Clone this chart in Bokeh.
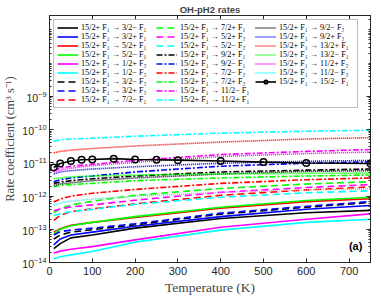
from bokeh.plotting import figure
from bokeh.models import (Range1d, LogAxis, LinearAxis, FixedTicker, Legend, LegendItem,
                          Label, CustomJSTickFormatter)
from bokeh.embed import file_html
from bokeh.resources import INLINE

# ---------------- data ----------------
T = [10, 25, 50, 100, 200, 400, 600, 750]
T_marked = [10, 25, 50, 75, 100, 150, 200, 250, 300, 400, 500, 600, 750]

# solid
k_32m_F1 = [2.6e-14, 3.7e-14, 5.5e-14, 6.7e-14, 1.08e-13, 2.1e-13, 3.15e-13, 3.7e-13]
k_32p_F1 = [3.4e-14, 5.1e-14, 6.7e-14, 8.2e-14, 1.23e-13, 2.4e-13, 4.0e-13, 5.2e-13]
k_52p_F1 = [8.2e-14, 1.04e-13, 1.32e-13, 1.61e-13, 2.25e-13, 4.3e-13, 6.8e-13, 8.3e-13]
k_52m_F1 = [7.4e-14, 1.0e-13, 1.27e-13, 1.61e-13, 2.4e-13, 4.6e-13, 7.3e-13, 9.2e-13]
k_12p_F2 = [1.94e-14, 2.2e-14, 2.5e-14, 3.0e-14, 4.8e-14, 1.15e-13, 2.0e-13, 2.9e-13]
k_12m_F2 = [1.3e-14, 1.49e-14, 1.7e-14, 2.15e-14, 4.1e-14, 9.4e-14, 1.61e-13, 2.0e-13]
# dashed
k_32m_F2 = [5.1e-14, 6.7e-14, 8.2e-14, 9.7e-14, 1.36e-13, 2.85e-13, 4.6e-13, 6.4e-13]
k_32p_F2 = [6.7e-14, 8.5e-14, 9.4e-14, 1.08e-13, 1.46e-13, 3.05e-13, 4.9e-13, 6.8e-13]
k_72m_F1 = [1.84e-13, 2.6e-13, 3.4e-13, 4.1e-13, 5.8e-13, 1.05e-12, 1.53e-12, 1.87e-12]
k_72p_F1 = [3.15e-13, 4.1e-13, 5.4e-13, 7.0e-13, 1.05e-12, 1.69e-12, 2.3e-12, 2.7e-12]
k_52p_F2 = [3.6e-13, 4.1e-13, 4.7e-13, 5.4e-13, 7.5e-13, 1.29e-12, 1.8e-12, 2.2e-12]
k_52m_F2 = [2.6e-13, 2.9e-13, 3.4e-13, 4.0e-13, 5.6e-13, 9.2e-13, 1.25e-12, 1.43e-12]
# dash-dot
k_92p_F1 = [2.4e-12, 2.6e-12, 2.9e-12, 3.3e-12, 4.0e-12, 5.3e-12, 6.0e-12, 6.5e-12]
k_92m_F1 = [2.7e-12, 3.1e-12, 3.5e-12, 4.0e-12, 5.3e-12, 7.9e-12, 9.7e-12, 1.07e-11]
k_72m_F2 = [6.6e-13, 8.1e-13, 9.9e-13, 1.21e-12, 1.58e-12, 2.4e-12, 3.1e-12, 3.5e-12]
k_72p_F2 = [1.9e-12, 2.1e-12, 2.2e-12, 2.4e-12, 2.9e-12, 3.5e-12, 4.0e-12, 4.3e-12]
k_112m_F1 = [6.0e-12, 6.9e-12, 7.9e-12, 9.0e-12, 1.18e-11, 1.77e-11, 2.2e-11, 2.5e-11]
k_112p_F1 = [4.5e-11, 4.9e-11, 5.2e-11, 5.5e-11, 6.3e-11, 7.8e-11, 8.9e-11, 9.5e-11]
# dotted
k_92m_F2 = [2.1e-12, 2.3e-12, 2.5e-12, 2.9e-12, 3.5e-12, 4.6e-12, 5.5e-12, 5.8e-12]
k_92p_F2 = [4.6e-12, 5.3e-12, 5.8e-12, 6.5e-12, 7.6e-12, 9.7e-12, 1.11e-11, 1.18e-11]
k_132p_F1 = [2.0e-11, 2.2e-11, 2.4e-11, 2.7e-11, 3.2e-11, 4.2e-11, 5.2e-11, 5.7e-11]
k_132m_F1 = [3.3e-12, 3.5e-12, 3.8e-12, 4.0e-12, 4.3e-12, 4.6e-12, 4.8e-12, 4.9e-12]
k_112p_F2 = [5.3e-12, 6.0e-12, 6.9e-12, 8.2e-12, 1.03e-11, 1.55e-11, 1.9e-11, 2.1e-11]
k_112m_F2 = [5.4e-13, 6.2e-13, 7.0e-13, 8.1e-13, 9.9e-13, 1.29e-12, 1.53e-12, 1.63e-12]
# with markers
k_152m_F1 = [7.2e-12, 9.5e-12, 1.13e-11, 1.24e-11, 1.26e-11, 1.33e-11, 1.26e-11,
             1.24e-11, 1.2e-11, 1.13e-11, 1.05e-11, 9.9e-12, 9.5e-12]

labels = [
    "15/2+ F\u2081 \u2192 3/2\u2212 F\u2081", "15/2+ F\u2081 \u2192 3/2+ F\u2081",
    "15/2+ F\u2081 \u2192 5/2+ F\u2081", "15/2+ F\u2081 \u2192 5/2\u2212 F\u2081",
    "15/2+ F\u2081 \u2192 1/2+ F\u2082", "15/2+ F\u2081 \u2192 1/2\u2212 F\u2082",
    "15/2+ F\u2081 \u2192 3/2\u2212 F\u2082", "15/2+ F\u2081 \u2192 3/2+ F\u2082",
    "15/2+ F\u2081 \u2192 7/2\u2212 F\u2081", "15/2+ F\u2081 \u2192 7/2+ F\u2081",
    "15/2+ F\u2081 \u2192 5/2+ F\u2082", "15/2+ F\u2081 \u2192 5/2\u2212 F\u2082",
    "15/2+ F\u2081 \u2192 9/2+ F\u2081", "15/2+ F\u2081 \u2192 9/2\u2212 F\u2081",
    "15/2+ F\u2081 \u2192 7/2\u2212 F\u2082", "15/2+ F\u2081 \u2192 7/2+ F\u2082",
    "15/2+ F\u2081 \u2192 11/2\u2212 F\u2081", "15/2+ F\u2081 \u2192 11/2+ F\u2081",
    "15/2+ F\u2081 \u2192 9/2\u2212 F\u2082", "15/2+ F\u2081 \u2192 9/2+ F\u2082",
    "15/2+ F\u2081 \u2192 13/2+ F\u2081", "15/2+ F\u2081 \u2192 13/2\u2212 F\u2081",
    "15/2+ F\u2081 \u2192 11/2+ F\u2082", "15/2+ F\u2081 \u2192 11/2\u2212 F\u2082",
    "15/2+ F\u2081 \u2192 15/2\u2212 F\u2081",
]
series = [k_32m_F1, k_32p_F1, k_52p_F1, k_52m_F1, k_12p_F2, k_12m_F2,
          k_32m_F2, k_32p_F2, k_72m_F1, k_72p_F1, k_52p_F2, k_52m_F2,
          k_92p_F1, k_92m_F1, k_72m_F2, k_72p_F2, k_112m_F1, k_112p_F1,
          k_92m_F2, k_92p_F2, k_132p_F1, k_132m_F1, k_112p_F2, k_112m_F2]

x_ticks = [0, 100, 200, 300, 400, 500, 600, 700]
y_ticks = [1e-14, 1e-13, 1e-12, 1e-11, 1e-10, 1e-9]

# ---------------- styling ----------------
colors6 = ["#000000", "#0000FF", "#FF0000", "#00FF00", "#FF00FF", "#00FFFF"]
dashes = ["solid", "7 4", "6 2 2 2", "1 1"]
axis_col = "#262626"
serif = "Liberation Serif"
sans = "Liberation Sans"

p = figure(width=373, height=297, x_range=Range1d(0, 750),
           y_range=Range1d(1e-14, 2.7e-7), y_axis_type="log",
           output_backend="svg", toolbar_location=None,
           title="OH-pH2 rates", min_border_left=42, min_border_right=3,
           min_border_top=0, min_border_bottom=33)
p.title.align = "center"
p.title.text_font = sans
p.title.text_font_size = "9.5px"
p.title.text_font_style = "bold"
p.title.standoff = 2
p.grid.visible = False
p.outline_line_color = axis_col
p.outline_line_width = 1
p.background_fill_color = "white"
p.border_fill_color = "white"

minor_y = [m * 10.0 ** e for e in range(-14, -6) for m in range(2, 10)] + [1e-8, 1e-7]
blank = CustomJSTickFormatter(code="return ''")

def style_axis(ax):
    ax.axis_line_color = axis_col
    ax.major_tick_line_color = axis_col
    ax.minor_tick_line_color = axis_col
    ax.major_tick_in = 4
    ax.major_tick_out = 0
    ax.minor_tick_in = 2
    ax.minor_tick_out = 0
    ax.major_label_text_color = axis_col
    ax.major_label_text_font = sans

xa = p.xaxis[0]
xa.ticker = FixedTicker(ticks=x_ticks, minor_ticks=[])
style_axis(xa)
xa.major_label_text_font_size = "11px"
xa.major_label_standoff = 4
xa.axis_label = "Temperature (K)"
xa.axis_label_text_font = serif
xa.axis_label_text_font_style = "normal"
xa.axis_label_text_font_size = "13.5px"
xa.axis_label_standoff = 2

ya = p.yaxis[0]
ya.ticker = FixedTicker(ticks=y_ticks, minor_ticks=minor_y)
style_axis(ya)
ya.major_label_text_font_size = "10.5px"
ya.major_label_standoff = 3
ya.axis_label = "Rate coefficient (cm\u00b3 s\u207b\u00b9)"
ya.axis_label_text_font = serif
ya.axis_label_text_font_style = "normal"
ya.axis_label_text_font_size = "12.5px"
ya.axis_label_standoff = 2

ra = LogAxis(ticker=FixedTicker(ticks=y_ticks, minor_ticks=minor_y), formatter=blank)
style_axis(ra)
ra.major_label_standoff = 0
p.add_layout(ra, "right")
ta = LinearAxis(ticker=FixedTicker(ticks=x_ticks, minor_ticks=[]), formatter=blank)
style_axis(ta)
ta.major_label_standoff = 0
p.add_layout(ta, "above")

# ---------------- curves ----------------
items = []
for i, ys in enumerate(series):
    r = p.line(T, ys, line_color=colors6[i % 6], line_width=1.6,
               line_dash=dashes[i // 6])
    items.append(LegendItem(label=labels[i], renderers=[r]))

rl = p.line(T_marked, k_152m_F1, line_color="black", line_width=1.6)
rm = p.scatter(T_marked, k_152m_F1, marker="circle", size=6.5, line_color="black",
               line_width=1.5, fill_color=None)
items.append(LegendItem(label=labels[24], renderers=[rl, rm]))

legend = Legend(items=items, location="top_left", orientation="vertical",
                nrows=9,
                glyph_width=21, glyph_height=9, label_height=9,
                label_width=75, label_standoff=3, spacing=0,
                padding=3, margin=4,
                label_text_font=serif, label_text_font_size="8.2px",
                label_text_color="black",
                border_line_color="#7f7f7f", border_line_width=1,
                background_fill_color="white", background_fill_alpha=1)
p.add_layout(legend)

p.add_layout(Label(x=731, y=2.0e-14, text="(a)", text_align="right",
                   text_baseline="bottom", text_font=sans,
                   text_font_size="11px", text_font_style="bold",
                   text_color="black"))

open("out.html", "w").write(file_html(p, INLINE))
